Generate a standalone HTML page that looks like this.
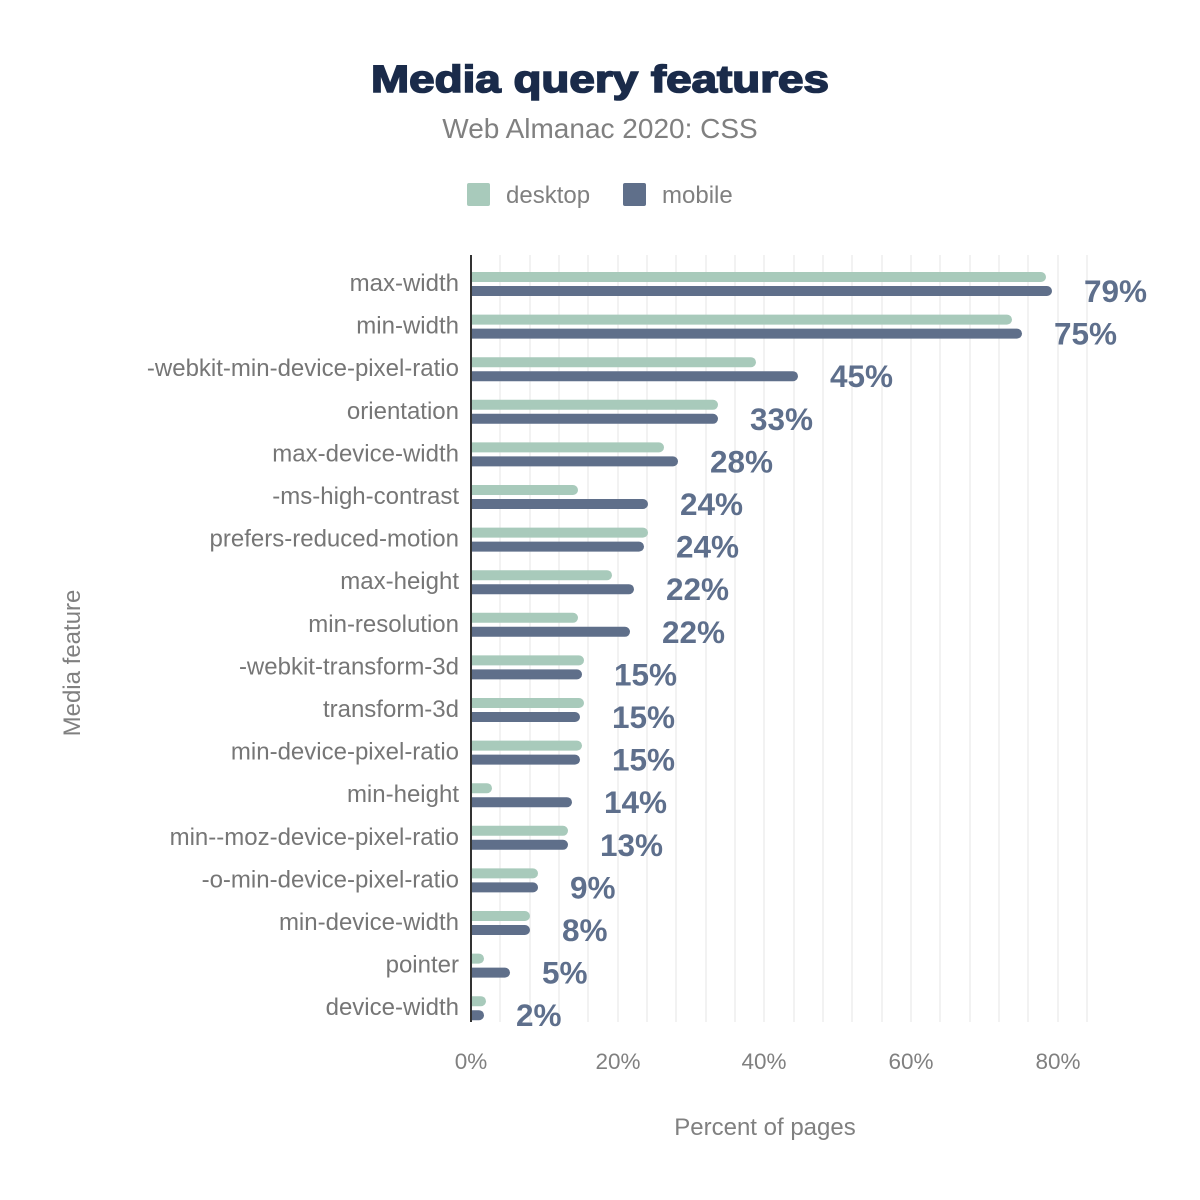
<!DOCTYPE html>
<html><head><meta charset="utf-8"><style>
html,body{margin:0;padding:0;background:#fff}
svg{display:block}
text{font-family:"Liberation Sans",Arial,sans-serif}
.c{font-size:24px;fill:#767676;text-anchor:end}
.v{font-size:31.5px;font-weight:bold;fill:#5e6f8c}
.d{fill:#a8cabb}.m{fill:#5f6f8a}
.g{stroke:#f2f2f2;stroke-width:2}
</style></head><body>
<svg width="1200" height="1200" viewBox="0 0 1200 1200" xmlns="http://www.w3.org/2000/svg">
<defs><clipPath id="cp"><rect x="471" y="240" width="700" height="800"/></clipPath></defs>
<text x="600" y="92" text-anchor="middle" font-size="38" font-weight="bold" fill="#1a2b4a" stroke="#1a2b4a" stroke-width="1.6" textLength="458" lengthAdjust="spacingAndGlyphs">Media query features</text>
<text x="600" y="138" text-anchor="middle" font-size="28" fill="#808080">Web Almanac 2020: CSS</text>
<rect x="467" y="183" width="23" height="23" rx="2" class="d"/>
<text x="506" y="203" font-size="24" fill="#808080">desktop</text>
<rect x="623" y="183" width="23" height="23" rx="2" class="m"/>
<text x="662" y="203" font-size="24" fill="#808080">mobile</text>
<g class="g">
<line x1="500" y1="255" x2="500" y2="1022"/><line x1="530" y1="255" x2="530" y2="1022"/><line x1="559" y1="255" x2="559" y2="1022"/><line x1="588" y1="255" x2="588" y2="1022"/><line x1="618" y1="255" x2="618" y2="1022"/><line x1="647" y1="255" x2="647" y2="1022"/><line x1="676" y1="255" x2="676" y2="1022"/><line x1="706" y1="255" x2="706" y2="1022"/><line x1="735" y1="255" x2="735" y2="1022"/><line x1="764" y1="255" x2="764" y2="1022"/><line x1="794" y1="255" x2="794" y2="1022"/><line x1="823" y1="255" x2="823" y2="1022"/><line x1="852" y1="255" x2="852" y2="1022"/><line x1="882" y1="255" x2="882" y2="1022"/><line x1="911" y1="255" x2="911" y2="1022"/><line x1="940" y1="255" x2="940" y2="1022"/><line x1="970" y1="255" x2="970" y2="1022"/><line x1="999" y1="255" x2="999" y2="1022"/><line x1="1028" y1="255" x2="1028" y2="1022"/><line x1="1058" y1="255" x2="1058" y2="1022"/><line x1="1087" y1="255" x2="1087" y2="1022"/>
</g>
<g clip-path="url(#cp)">
<rect class="d" x="461" y="272" width="585" height="10" rx="5"/><rect class="m" x="461" y="286" width="591" height="10" rx="5"/>
<rect class="d" x="461" y="314.6" width="551" height="10" rx="5"/><rect class="m" x="461" y="328.6" width="561" height="10" rx="5"/>
<rect class="d" x="461" y="357.2" width="295" height="10" rx="5"/><rect class="m" x="461" y="371.2" width="337" height="10" rx="5"/>
<rect class="d" x="461" y="399.8" width="257" height="10" rx="5"/><rect class="m" x="461" y="413.8" width="257" height="10" rx="5"/>
<rect class="d" x="461" y="442.4" width="203" height="10" rx="5"/><rect class="m" x="461" y="456.4" width="217" height="10" rx="5"/>
<rect class="d" x="461" y="485" width="117" height="10" rx="5"/><rect class="m" x="461" y="499" width="187" height="10" rx="5"/>
<rect class="d" x="461" y="527.6" width="187" height="10" rx="5"/><rect class="m" x="461" y="541.6" width="183" height="10" rx="5"/>
<rect class="d" x="461" y="570.2" width="151" height="10" rx="5"/><rect class="m" x="461" y="584.2" width="173" height="10" rx="5"/>
<rect class="d" x="461" y="612.8" width="117" height="10" rx="5"/><rect class="m" x="461" y="626.8" width="169" height="10" rx="5"/>
<rect class="d" x="461" y="655.4" width="123" height="10" rx="5"/><rect class="m" x="461" y="669.4" width="121" height="10" rx="5"/>
<rect class="d" x="461" y="698" width="123" height="10" rx="5"/><rect class="m" x="461" y="712" width="119" height="10" rx="5"/>
<rect class="d" x="461" y="740.6" width="121" height="10" rx="5"/><rect class="m" x="461" y="754.6" width="119" height="10" rx="5"/>
<rect class="d" x="461" y="783.2" width="31" height="10" rx="5"/><rect class="m" x="461" y="797.2" width="111" height="10" rx="5"/>
<rect class="d" x="461" y="825.8" width="107" height="10" rx="5"/><rect class="m" x="461" y="839.8" width="107" height="10" rx="5"/>
<rect class="d" x="461" y="868.4" width="77" height="10" rx="5"/><rect class="m" x="461" y="882.4" width="77" height="10" rx="5"/>
<rect class="d" x="461" y="911" width="69" height="10" rx="5"/><rect class="m" x="461" y="925" width="69" height="10" rx="5"/>
<rect class="d" x="461" y="953.6" width="23" height="10" rx="5"/><rect class="m" x="461" y="967.6" width="49" height="10" rx="5"/>
<rect class="d" x="461" y="996.2" width="25" height="10" rx="5"/><rect class="m" x="461" y="1010.2" width="23" height="10" rx="5"/>
</g>
<line x1="471" y1="255" x2="471" y2="1022" stroke="#333" stroke-width="2"/>
<text class="c" x="459" y="291">max-width</text>
<text class="c" x="459" y="333.6">min-width</text>
<text class="c" x="459" y="376.2">-webkit-min-device-pixel-ratio</text>
<text class="c" x="459" y="418.8">orientation</text>
<text class="c" x="459" y="461.4">max-device-width</text>
<text class="c" x="459" y="504">-ms-high-contrast</text>
<text class="c" x="459" y="546.6">prefers-reduced-motion</text>
<text class="c" x="459" y="589.2">max-height</text>
<text class="c" x="459" y="631.8">min-resolution</text>
<text class="c" x="459" y="674.4">-webkit-transform-3d</text>
<text class="c" x="459" y="717">transform-3d</text>
<text class="c" x="459" y="759.6">min-device-pixel-ratio</text>
<text class="c" x="459" y="802.2">min-height</text>
<text class="c" x="459" y="844.8">min--moz-device-pixel-ratio</text>
<text class="c" x="459" y="887.4">-o-min-device-pixel-ratio</text>
<text class="c" x="459" y="930">min-device-width</text>
<text class="c" x="459" y="972.6">pointer</text>
<text class="c" x="459" y="1015.2">device-width</text>
<text class="v" x="1084" y="302">79%</text>
<text class="v" x="1054" y="344.6">75%</text>
<text class="v" x="830" y="387.2">45%</text>
<text class="v" x="750" y="429.8">33%</text>
<text class="v" x="710" y="472.4">28%</text>
<text class="v" x="680" y="515">24%</text>
<text class="v" x="676" y="557.6">24%</text>
<text class="v" x="666" y="600.2">22%</text>
<text class="v" x="662" y="642.8">22%</text>
<text class="v" x="614" y="685.4">15%</text>
<text class="v" x="612" y="728">15%</text>
<text class="v" x="612" y="770.6">15%</text>
<text class="v" x="604" y="813.2">14%</text>
<text class="v" x="600" y="855.8">13%</text>
<text class="v" x="570" y="898.4">9%</text>
<text class="v" x="562" y="941">8%</text>
<text class="v" x="542" y="983.6">5%</text>
<text class="v" x="516" y="1026.2">2%</text>
<g font-size="22.5" fill="#808080" text-anchor="middle">
<text x="471" y="1069">0%</text><text x="618" y="1069">20%</text><text x="764" y="1069">40%</text><text x="911" y="1069">60%</text><text x="1058" y="1069">80%</text>
</g>
<text x="765" y="1135" text-anchor="middle" font-size="24" fill="#808080">Percent of pages</text>
<text transform="translate(80,663) rotate(-90)" text-anchor="middle" font-size="24" fill="#808080">Media feature</text>
</svg>
</body></html>
